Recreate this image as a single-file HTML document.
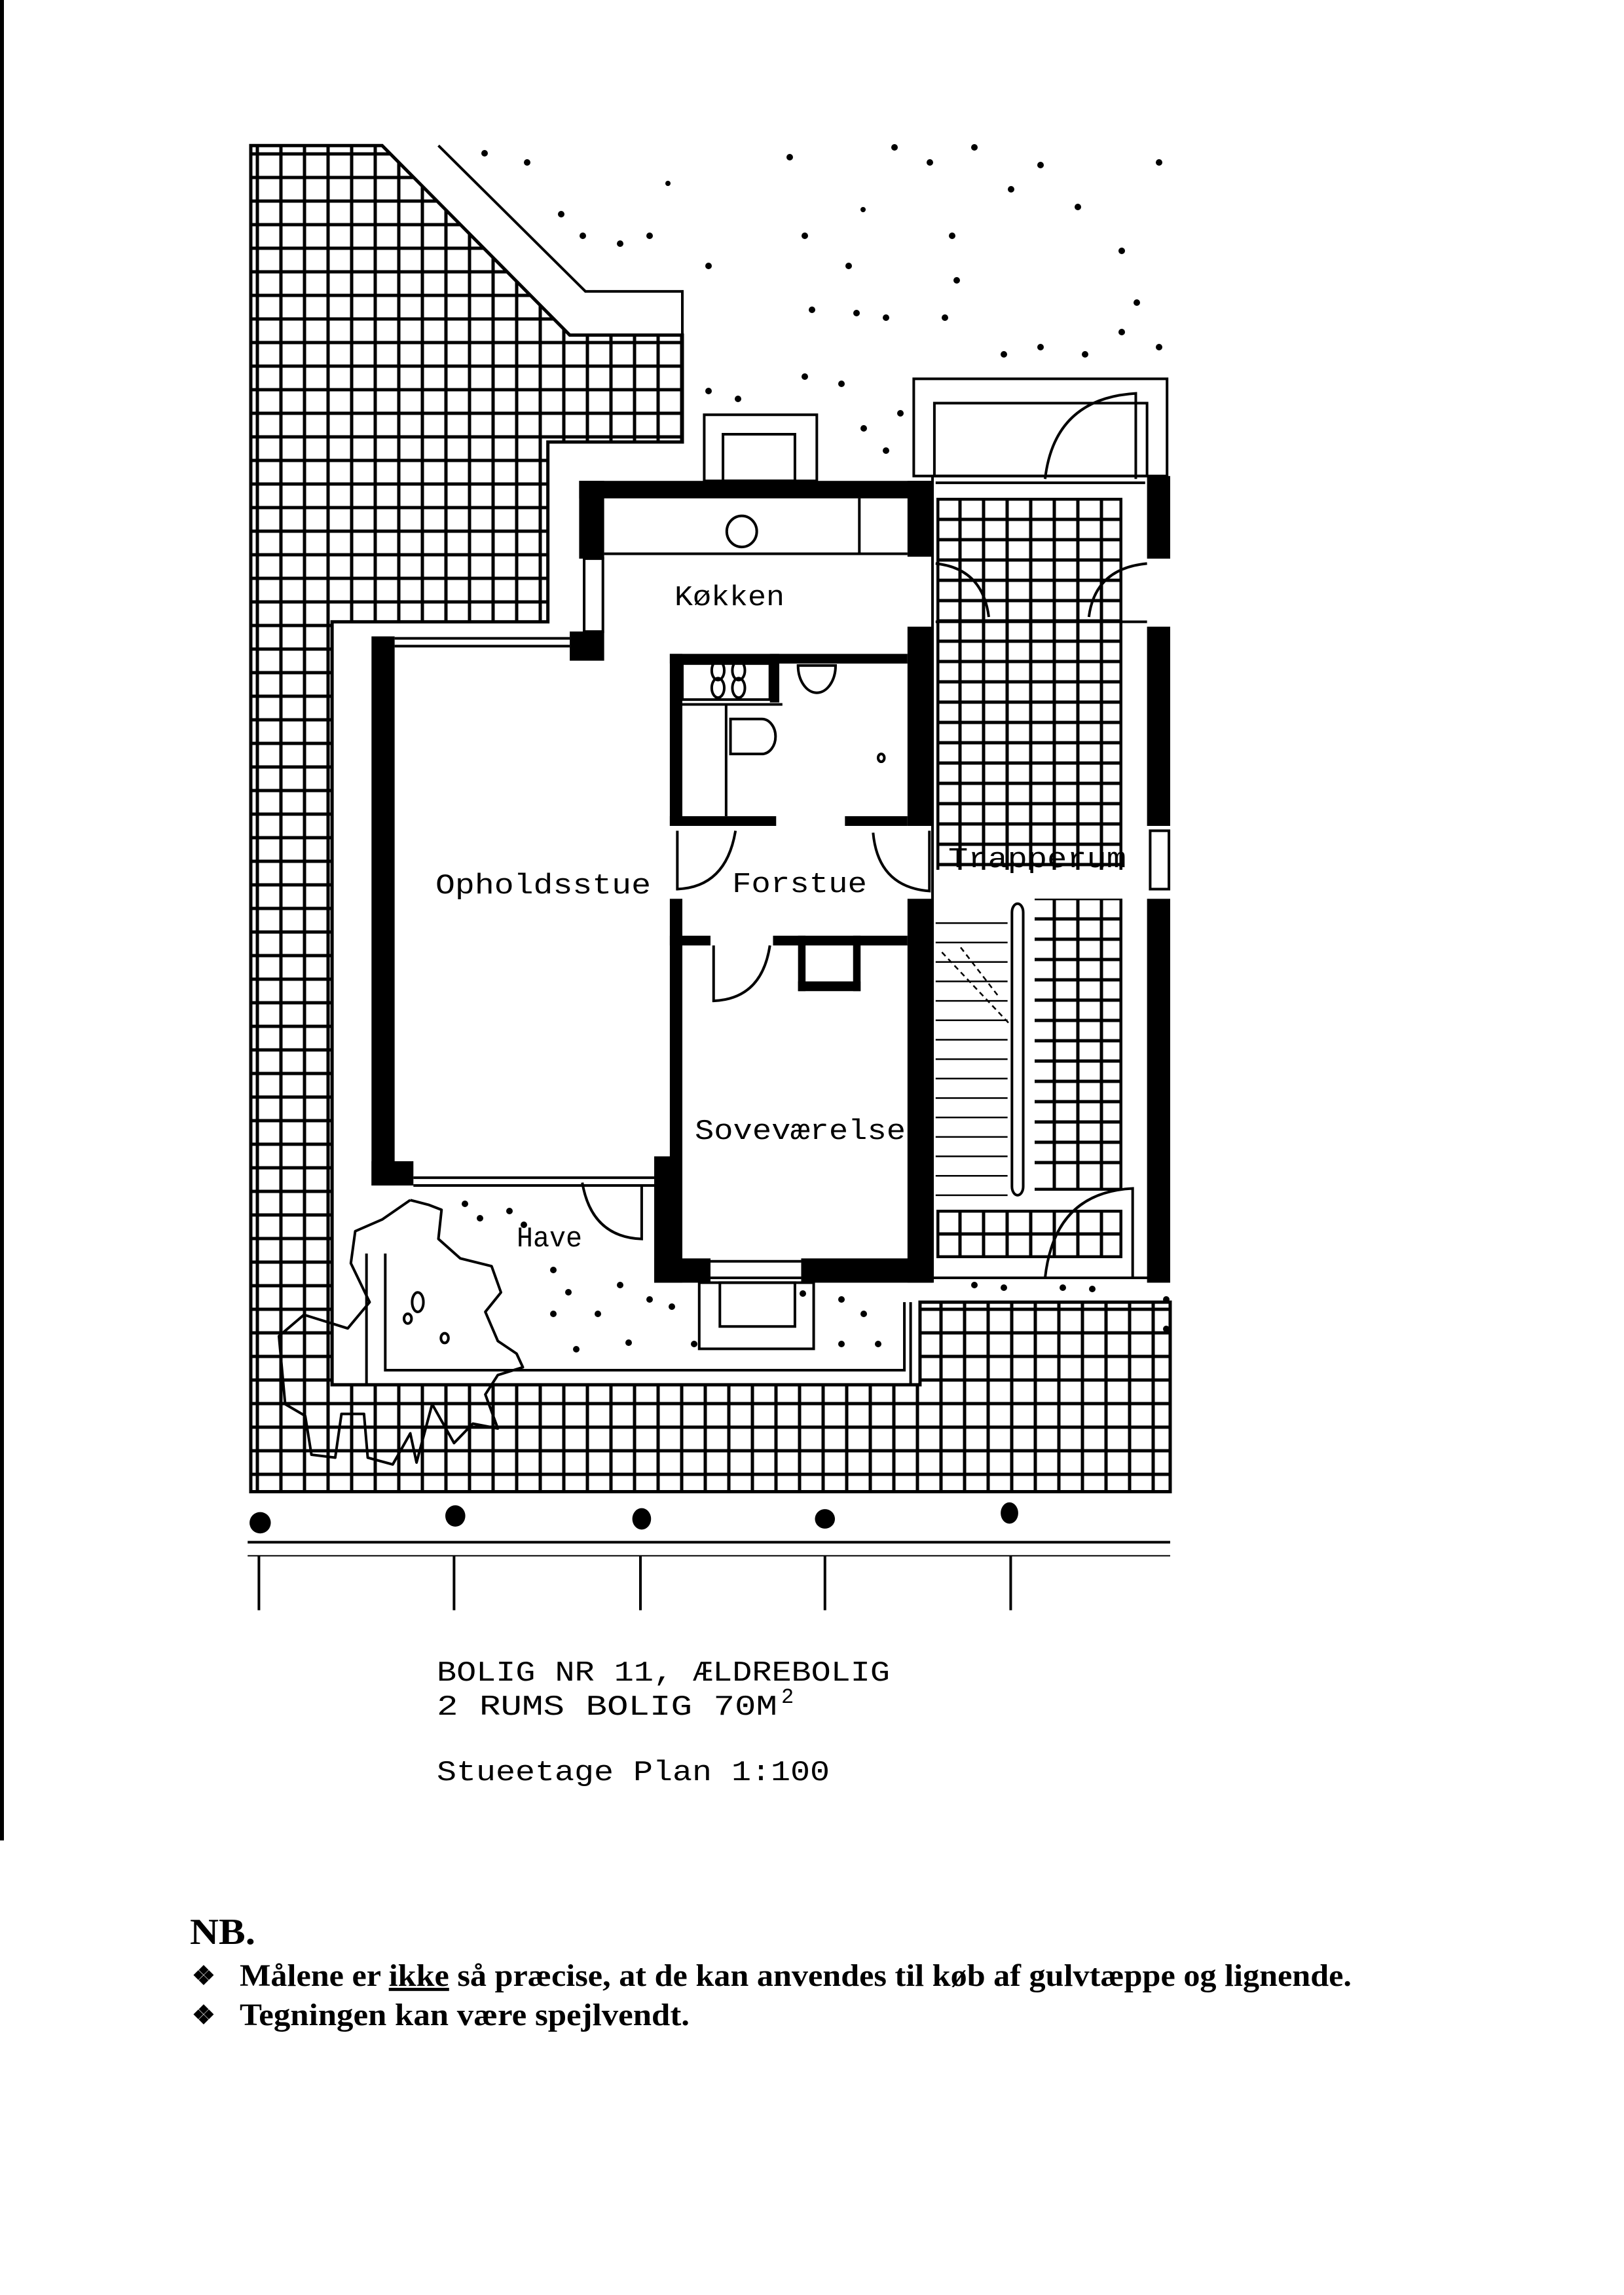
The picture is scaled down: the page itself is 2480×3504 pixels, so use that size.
<!DOCTYPE html>
<html><head><meta charset="utf-8"><style>
html,body{margin:0;padding:0;background:#fff}
svg{display:block}
</style></head><body>
<svg xmlns="http://www.w3.org/2000/svg" width="2480" height="3504" viewBox="0 0 2480 3504">
<defs>
<clipPath id="c1"><polygon transform="translate(340,200) scale(0.9551,1.4839)" points="45,15 255,15 555,210 735,210 735,320 520,320 520,505 175,505 175,1290 1115,1290 1115,1205 1515,1205 1515,1400 45,1400"/></clipPath>
<clipPath id="c2">
<rect x="1430" y="760" width="284" height="568"/>
<rect x="1580" y="1372" width="134" height="446"/>
<rect x="1430" y="1847" width="284" height="74"/>
</clipPath>
</defs>
<rect width="2480" height="3504" fill="#fff"/>
<rect x="0" y="0" width="6" height="2810" fill="#000"/>
<g clip-path="url(#c1)" stroke="#000" stroke-width="5" fill="none">
<path d="M393,200V2300M429,200V2300M465,200V2300M501,200V2300M537,200V2300M573,200V2300M609,200V2300M645,200V2300M681,200V2300M717,200V2300M753,200V2300M789,200V2300M825,200V2300M861,200V2300M897,200V2300M933,200V2300M969,200V2300M1005,200V2300M1041,200V2300M1077,200V2300M1113,200V2300M1149,200V2300M1185,200V2300M1221,200V2300M1257,200V2300M1293,200V2300M1329,200V2300M1365,200V2300M1401,200V2300M1437,200V2300M1473,200V2300M1509,200V2300M1545,200V2300M1581,200V2300M1617,200V2300M1653,200V2300M1689,200V2300M1725,200V2300M1761,200V2300M1797,200V2300"/>
<path d="M350,235H1850M350,271H1850M350,307H1850M350,343H1850M350,379H1850M350,415H1850M350,451H1850M350,487H1850M350,523H1850M350,559H1850M350,595H1850M350,631H1850M350,667H1850M350,703H1850M350,739H1850M350,775H1850M350,811H1850M350,847H1850M350,883H1850M350,919H1850M350,955H1850M350,991H1850M350,1027H1850M350,1063H1850M350,1099H1850M350,1135H1850M350,1171H1850M350,1207H1850M350,1243H1850M350,1279H1850M350,1315H1850M350,1351H1850M350,1387H1850M350,1423H1850M350,1459H1850M350,1495H1850M350,1531H1850M350,1567H1850M350,1603H1850M350,1639H1850M350,1675H1850M350,1711H1850M350,1747H1850M350,1783H1850M350,1819H1850M350,1855H1850M350,1891H1850M350,1927H1850M350,1963H1850M350,1999H1850M350,2035H1850M350,2071H1850M350,2107H1850M350,2143H1850M350,2179H1850M350,2215H1850M350,2251H1850"/>
</g>
<g clip-path="url(#c2)" stroke="#000" stroke-width="5" fill="none">
<path d="M1432,700V2000M1466,700V2000M1502,700V2000M1538,700V2000M1574,700V2000M1610,700V2000M1646,700V2000M1682,700V2000M1712,700V2000"/>
<path d="M1400,762H1750M1400,793H1750M1400,824H1750M1400,855H1750M1400,886H1750M1400,917H1750M1400,948H1750M1400,979H1750M1400,1010H1750M1400,1041H1750M1400,1072H1750M1400,1103H1750M1400,1134H1750M1400,1165H1750M1400,1196H1750M1400,1227H1750M1400,1258H1750M1400,1289H1750M1400,1320H1750M1400,1372H1750M1400,1403H1750M1400,1434H1750M1400,1465H1750M1400,1496H1750M1400,1527H1750M1400,1558H1750M1400,1589H1750M1400,1620H1750M1400,1651H1750M1400,1682H1750M1400,1713H1750M1400,1744H1750M1400,1775H1750M1400,1816H1750M1400,1849H1750M1400,1884H1750M1400,1919H1750"/>
</g>

<g transform="translate(340,200) scale(0.9551,1.4839)" fill="none" stroke="#000" stroke-width="4">
<polygon vector-effect="non-scaling-stroke" stroke-width="5" points="45,15 255,15 555,210 735,210 735,320 520,320 520,505 175,505 175,1290 1115,1290 1115,1205 1515,1205 1515,1400 45,1400"/>
<polyline vector-effect="non-scaling-stroke" points="345,15 580,165 735,165 735,210"/>
<polyline vector-effect="non-scaling-stroke" points="230,1155 230,1290 1100,1290 1100,1205"/>
<polyline vector-effect="non-scaling-stroke" points="260,1155 260,1275 1090,1275 1090,1205"/>
<rect vector-effect="non-scaling-stroke" x="770" y="292" width="180" height="68"/>
<rect vector-effect="non-scaling-stroke" x="800" y="312" width="115" height="48"/>
<rect vector-effect="non-scaling-stroke" x="762" y="1185" width="183" height="68"/>
<rect vector-effect="non-scaling-stroke" x="795" y="1185" width="120" height="45"/>
<line vector-effect="non-scaling-stroke" x1="610" y1="435" x2="1095" y2="435"/>
<line vector-effect="non-scaling-stroke" x1="1018" y1="378" x2="1018" y2="435"/>
<ellipse vector-effect="non-scaling-stroke" cx="830" cy="412" rx="24" ry="16"/>
<rect vector-effect="non-scaling-stroke" x="578" y="440" width="30" height="75"/>
<line vector-effect="non-scaling-stroke" x1="275" y1="522" x2="555" y2="522"/>
<line vector-effect="non-scaling-stroke" x1="275" y1="530" x2="555" y2="530"/>
<line vector-effect="non-scaling-stroke" x1="305" y1="1077" x2="690" y2="1077"/>
<line vector-effect="non-scaling-stroke" x1="305" y1="1085" x2="690" y2="1085"/>
<path vector-effect="non-scaling-stroke" d="M575,1082 Q590,1138 670,1140 V1085"/>
<rect vector-effect="non-scaling-stroke" x="735" y="548" width="140" height="37"/>
<circle vector-effect="non-scaling-stroke" cx="792" cy="555" r="10"/>
<circle vector-effect="non-scaling-stroke" cx="825" cy="555" r="10"/>
<circle vector-effect="non-scaling-stroke" cx="792" cy="573" r="10"/>
<circle vector-effect="non-scaling-stroke" cx="825" cy="573" r="10"/>
<line vector-effect="non-scaling-stroke" x1="735" y1="590" x2="895" y2="590"/>
<line vector-effect="non-scaling-stroke" x1="805" y1="590" x2="805" y2="705"/>
<path vector-effect="non-scaling-stroke" d="M812,605 H862 A22,18 0 0 1 862,641 H812 Z"/>
<path vector-effect="non-scaling-stroke" d="M920,550 A30,28 0 0 0 980,550 Z"/>
<ellipse vector-effect="non-scaling-stroke" cx="1053" cy="645" rx="5" ry="4"/>
<path vector-effect="non-scaling-stroke" d="M727,720 V780 Q805,778 820,720"/>
<path vector-effect="non-scaling-stroke" d="M1130,720 V782 Q1048,778 1040,722"/>
<path vector-effect="non-scaling-stroke" d="M785,838 V895 Q862,893 875,838"/>
<line vector-effect="non-scaling-stroke" x1="780" y1="1163" x2="925" y2="1163"/>
<line vector-effect="non-scaling-stroke" x1="780" y1="1180" x2="925" y2="1180"/>
<rect vector-effect="non-scaling-stroke" x="1105" y="255" width="405" height="100"/>
<rect vector-effect="non-scaling-stroke" x="1138" y="280" width="340" height="75"/>
<path vector-effect="non-scaling-stroke" d="M1315,358 Q1330,275 1460,270 V358"/>
<line vector-effect="non-scaling-stroke" x1="1135" y1="355" x2="1135" y2="1185"/>
<line vector-effect="non-scaling-stroke" x1="1140" y1="362" x2="1475" y2="362"/>
<path vector-effect="non-scaling-stroke" d="M1140,445 Q1215,450 1225,500"/>
<path vector-effect="non-scaling-stroke" d="M1478,445 Q1395,450 1385,500"/>
<line vector-effect="non-scaling-stroke" x1="1140" y1="505" x2="1478" y2="505"/>
<path vector-effect="non-scaling-stroke" d="M1315,1180 Q1330,1092 1455,1088 V1180"/>
<line vector-effect="non-scaling-stroke" x1="1135" y1="1180" x2="1480" y2="1180"/>
<rect vector-effect="non-scaling-stroke" x="1483" y="720" width="30" height="60"/>
<rect vector-effect="non-scaling-stroke" x="1262" y="795" width="18" height="300" rx="9"/>
<path vector-effect="non-scaling-stroke" stroke-width="2.5" d="M1140,815H1255M1140,835H1255M1140,855H1255M1140,875H1255M1140,895H1255M1140,915H1255M1140,935H1255M1140,955H1255M1140,975H1255M1140,995H1255M1140,1015H1255M1140,1035H1255M1140,1055H1255M1140,1075H1255M1140,1095H1255"/>
<path vector-effect="non-scaling-stroke" stroke-width="2.5" stroke-dasharray="8 6" d="M1150,845 L1260,920 M1180,840 L1240,890"/>
<polyline vector-effect="non-scaling-stroke" stroke-linejoin="round" points="300,1100 330,1105 350,1110 345,1140 380,1160 430,1168 445,1195 420,1215 440,1245 470,1258 480,1272 440,1280 420,1300 440,1335 400,1330 370,1350 335,1310 310,1370 300,1340 272,1372 232,1365 226,1320 190,1320 180,1365 142,1362 132,1322 100,1310 90,1240 130,1218 200,1232 235,1205 205,1165 212,1132 255,1120 300,1100"/>
<ellipse vector-effect="non-scaling-stroke" cx="312" cy="1205" rx="9" ry="10"/>
<ellipse vector-effect="non-scaling-stroke" cx="296" cy="1222" rx="6" ry="5"/>
<ellipse vector-effect="non-scaling-stroke" cx="355" cy="1242" rx="6" ry="5"/>
<line vector-effect="non-scaling-stroke" x1="40" y1="1452" x2="1515" y2="1452"/>
<line vector-effect="non-scaling-stroke" x1="40" y1="1466" x2="1515" y2="1466" stroke-width="2"/>
<path vector-effect="non-scaling-stroke" d="M58,1466V1522M370,1466V1522M668,1466V1522M963,1466V1522M1260,1466V1522"/>
<g fill="#000" stroke="none">
<rect x="570" y="360" width="565" height="18"/>
<rect x="570" y="360" width="40" height="80"/>
<rect x="555" y="515" width="55" height="30"/>
<rect x="1095" y="360" width="40" height="78"/>
<rect x="238" y="520" width="37" height="565"/>
<rect x="238" y="1060" width="67" height="25"/>
<rect x="690" y="1055" width="45" height="130"/>
<rect x="715" y="790" width="20" height="380"/>
<rect x="690" y="1160" width="90" height="25"/>
<rect x="925" y="1160" width="210" height="25"/>
<rect x="1095" y="510" width="40" height="205"/>
<rect x="1095" y="790" width="40" height="395"/>
<rect x="715" y="538" width="380" height="10"/>
<rect x="715" y="538" width="20" height="177"/>
<rect x="715" y="705" width="170" height="10"/>
<rect x="995" y="705" width="100" height="10"/>
<rect x="875" y="538" width="15" height="50"/>
<rect x="715" y="828" width="65" height="10"/>
<rect x="880" y="828" width="215" height="10"/>
<rect x="920" y="828" width="12" height="57"/>
<rect x="1008" y="828" width="12" height="57"/>
<rect x="920" y="875" width="100" height="10"/>
<rect x="1478" y="355" width="37" height="85"/>
<rect x="1478" y="510" width="37" height="205"/>
<rect x="1478" y="790" width="37" height="395"/>
<ellipse cx="60" cy="1432" rx="17" ry="11"/>
<ellipse cx="372" cy="1425" rx="16" ry="11"/>
<ellipse cx="670" cy="1428" rx="15" ry="11"/>
<ellipse cx="963" cy="1428" rx="16" ry="10"/>
<ellipse cx="1258" cy="1422" rx="14" ry="11"/>
</g>
</g>

<g fill="#000">
<circle cx="740" cy="234" r="5"/><circle cx="805" cy="248" r="5"/><circle cx="857" cy="327" r="5"/><circle cx="890" cy="360" r="5"/><circle cx="947" cy="372" r="5"/><circle cx="992" cy="360" r="5"/><circle cx="1082" cy="406" r="5"/><circle cx="1229" cy="360" r="5"/><circle cx="1296" cy="406" r="5"/><circle cx="1240" cy="473" r="5"/><circle cx="1308" cy="478" r="5"/><circle cx="1353" cy="485" r="5"/><circle cx="1454" cy="360" r="5"/><circle cx="1461" cy="428" r="5"/><circle cx="1420" cy="248" r="5"/><circle cx="1488" cy="225" r="5"/><circle cx="1544" cy="289" r="5"/><circle cx="1589" cy="252" r="5"/><circle cx="1646" cy="316" r="5"/><circle cx="1713" cy="383" r="5"/><circle cx="1736" cy="462" r="5"/><circle cx="1770" cy="248" r="5"/><circle cx="1443" cy="485" r="5"/><circle cx="1533" cy="541" r="5"/><circle cx="1589" cy="530" r="5"/><circle cx="1657" cy="541" r="5"/><circle cx="1713" cy="507" r="5"/><circle cx="1082" cy="597" r="5"/><circle cx="1127" cy="609" r="5"/><circle cx="1229" cy="575" r="5"/><circle cx="1285" cy="586" r="5"/><circle cx="1319" cy="654" r="5"/><circle cx="1353" cy="688" r="5"/><circle cx="1375" cy="631" r="5"/><circle cx="1770" cy="530" r="5"/><circle cx="1206" cy="240" r="5"/><circle cx="1366" cy="225" r="5"/><circle cx="1020" cy="280" r="4"/><circle cx="1318" cy="320" r="4"/>
<circle cx="710" cy="1838" r="5"/><circle cx="733" cy="1860" r="5"/><circle cx="778" cy="1849" r="5"/><circle cx="800" cy="1870" r="5"/><circle cx="845" cy="1939" r="5"/><circle cx="868" cy="1973" r="5"/><circle cx="845" cy="2006" r="5"/><circle cx="913" cy="2006" r="5"/><circle cx="947" cy="1962" r="5"/><circle cx="992" cy="1984" r="5"/><circle cx="1026" cy="1995" r="5"/><circle cx="1060" cy="2052" r="5"/><circle cx="1285" cy="1984" r="5"/><circle cx="1319" cy="2006" r="5"/><circle cx="1341" cy="2052" r="5"/><circle cx="1285" cy="2052" r="5"/><circle cx="1781" cy="1984" r="5"/><circle cx="1781" cy="2029" r="5"/><circle cx="1488" cy="1962" r="5"/><circle cx="1533" cy="1966" r="5"/><circle cx="1623" cy="1966" r="5"/><circle cx="1668" cy="1968" r="5"/><circle cx="880" cy="2060" r="5"/><circle cx="960" cy="2050" r="5"/><circle cx="1226" cy="1975" r="5"/>
</g>

<g font-family="'Liberation Mono', monospace" font-size="44" fill="#000">
<text x="1030" y="924" textLength="168" lengthAdjust="spacingAndGlyphs">Køkken</text>
<text x="665" y="1364" textLength="329" lengthAdjust="spacingAndGlyphs">Opholdsstue</text>
<text x="1118" y="1362" textLength="206" lengthAdjust="spacingAndGlyphs">Forstue</text>
<text x="1061" y="1739" textLength="322" lengthAdjust="spacingAndGlyphs">Soveværelse</text>
<text x="1448" y="1324" textLength="272" lengthAdjust="spacingAndGlyphs">Trapperum</text>
<text x="789" y="1903" textLength="100" lengthAdjust="spacingAndGlyphs">Have</text>
<text x="667" y="2566" textLength="692" lengthAdjust="spacingAndGlyphs">BOLIG NR 11, ÆLDREBOLIG</text>
<text x="667" y="2618" textLength="520" lengthAdjust="spacingAndGlyphs">2 RUMS BOLIG 70M</text>
<text x="1193" y="2600" font-size="32">2</text>
<text x="667" y="2718" textLength="600" lengthAdjust="spacingAndGlyphs">Stueetage Plan 1:100</text>
</g>
<g font-family="'Liberation Serif', serif" font-weight="bold" fill="#000">
<text x="290" y="2968" font-size="56" textLength="100" lengthAdjust="spacingAndGlyphs">NB.</text>
<text x="293" y="3030" font-size="40">❖</text>
<text x="366" y="3032" font-size="48" textLength="1698" lengthAdjust="spacingAndGlyphs">Målene er <tspan text-decoration="underline">ikke</tspan> så præcise, at de kan anvendes til køb af gulvtæppe og lignende.</text>
<text x="293" y="3090" font-size="40">❖</text>
<text x="366" y="3092" font-size="48" textLength="687" lengthAdjust="spacingAndGlyphs">Tegningen kan være spejlvendt.</text>
</g>
</svg>
</body></html>
